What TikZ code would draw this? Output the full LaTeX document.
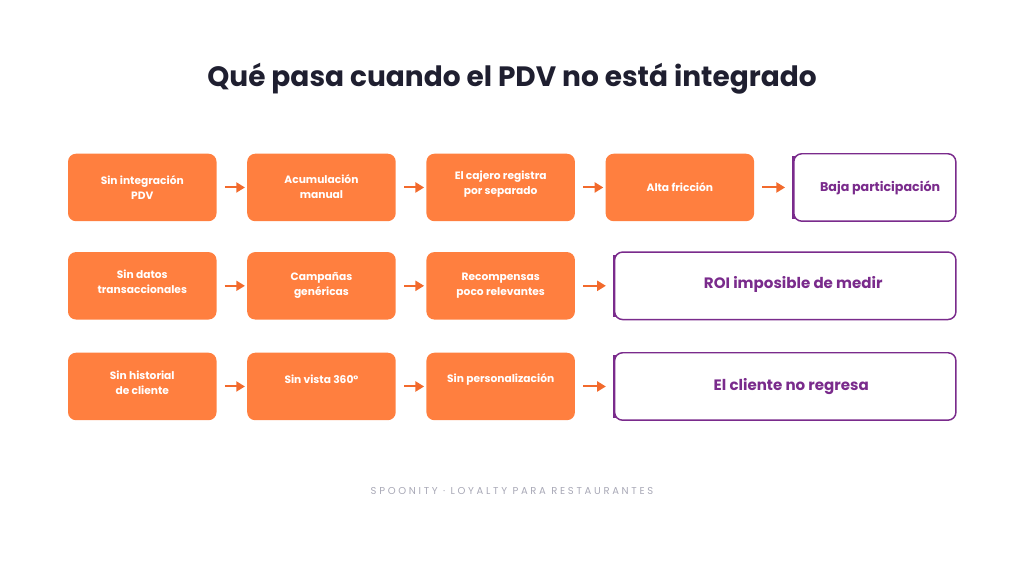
\documentclass[tikz,border=0pt]{standalone}
\usepackage{fontspec}
\setmainfont{Poppins}
\newfontfamily\footfont[LetterSpace=27]{Poppins}
\usetikzlibrary{arrows.meta, positioning}
\definecolor{spoOrange}{HTML}{FF7F3F}
\definecolor{spoArrow}{HTML}{F26A2C}
\definecolor{spoPurple}{HTML}{7A2B8C}
\definecolor{spoTitle}{HTML}{1F1F30}
\definecolor{spoGray}{HTML}{A8A8B6}

\begin{document}
\begin{tikzpicture}[
  node distance=22.75pt and 22.6pt,
  stepbox/.style={rectangle, rounded corners=6pt, minimum width=111.4pt,
    minimum height=50.6pt, fill=spoOrange, inner sep=0pt},
  steptext/.style={text=white, align=center,
    font=\bfseries\fontsize{8}{11.25}\selectfont},
  outbox/.style={rectangle, rounded corners=6pt, minimum height=50.6pt,
    draw=spoPurple, line width=1.1pt, fill=white, inner sep=0pt,
    append after command={
      \pgfextra{\draw[spoPurple, line width=2.4pt]
        ([xshift=0.7pt,yshift=-2.5pt]\tikzlastnode.north west) --
        ([xshift=0.7pt,yshift=2.5pt]\tikzlastnode.south west);}}},
  outtext/.style={text=spoPurple, font=\bfseries\fontsize{11.3}{13}\selectfont},
  arrow/.style={-{Triangle[length=6.5pt, width=7.5pt]}, draw=spoArrow, fill=spoArrow,
    line width=1.5pt, shorten <=6pt, shorten >=1.5pt}
]
\useasboundingbox (0,0) rectangle (768pt,-426pt);

\node[text=spoTitle, font=\bfseries\fontsize{21}{25}\selectfont] (title)
  at (384pt,-59.25pt) {Qué pasa cuando el PDV no está integrado};

% fila 1
\node (a1) [stepbox] at (106.7pt,-140.6pt) {};
\node (a2) [stepbox, right=of a1] {};
\node (a3) [stepbox, right=of a2] {};
\node (a4) [stepbox, right=of a3] {};
\node (o1) [outbox, right=29pt of a4, minimum width=121.5pt] {};

% fila 2
\node (b1) [stepbox, below=of a1] {};
\node (b2) [stepbox, right=of b1] {};
\node (b3) [stepbox, right=of b2] {};
\node (o2) [outbox, right=29pt of b3, minimum width=256pt] {};

% fila 3
\node (c1) [stepbox, below=24.5pt of b1] {};
\node (c2) [stepbox, right=of c1] {};
\node (c3) [stepbox, right=of c2] {};
\node (o3) [outbox, right=29pt of c3, minimum width=256pt] {};

% textos
\node (a1t) [steptext] at (a1) {Sin integración\\PDV};
\node (a2t) [steptext] at ([yshift=0.4pt]a2) {Acumulación\\manual};
\node (a3t) [steptext] at ([yshift=2.4pt]a3) {El cajero registra\\por separado};
\node (a4t) [steptext] at (a4) {Alta fricción};
\node (o1t) [outtext, font=\bfseries\fontsize{9.5}{11}\selectfont] at ([xshift=4pt]o1) {Baja participación};

\node (b1t) [steptext] at ([yshift=3.4pt]b1) {Sin datos\\transaccionales};
\node (b2t) [steptext] at (b2) {Campañas\\genéricas};
\node (b3t) [steptext] at (b3) {Recompensas\\poco relevantes};
\node (o2t) [outtext] at ([xshift=6pt,yshift=0.75pt]o2) {ROI imposible de medir};

\node (c1t) [steptext] at ([yshift=3pt]c1) {Sin historial\\de cliente};
\node (c2t) [steptext] at ([yshift=5.5pt]c2) {Sin vista 360°};
\node (c3t) [steptext] at ([yshift=5.5pt]c3) {Sin personalización};
\node (o3t) [outtext] at ([xshift=4.5pt]o3) {El cliente no regresa};

% flechas
\draw [arrow] (a1) -- (a2);
\draw [arrow] (a2) -- (a3);
\draw [arrow] (a3) -- (a4);
\draw [arrow, shorten >=6pt] (a4) -- (o1);
\draw [arrow] (b1) -- (b2);
\draw [arrow] (b2) -- (b3);
\draw [arrow, shorten >=6pt] (b3) -- (o2);
\draw [arrow] (c1) -- (c2);
\draw [arrow] (c2) -- (c3);
\draw [arrow, shorten >=6pt] (c3) -- (o3);

\node[text=spoGray, font=\footfont\fontsize{7.5}{9}\selectfont] (foot)
  at (384pt,-368.25pt) {SPOONITY · LOYALTY PARA RESTAURANTES};
\end{tikzpicture}
\end{document}
